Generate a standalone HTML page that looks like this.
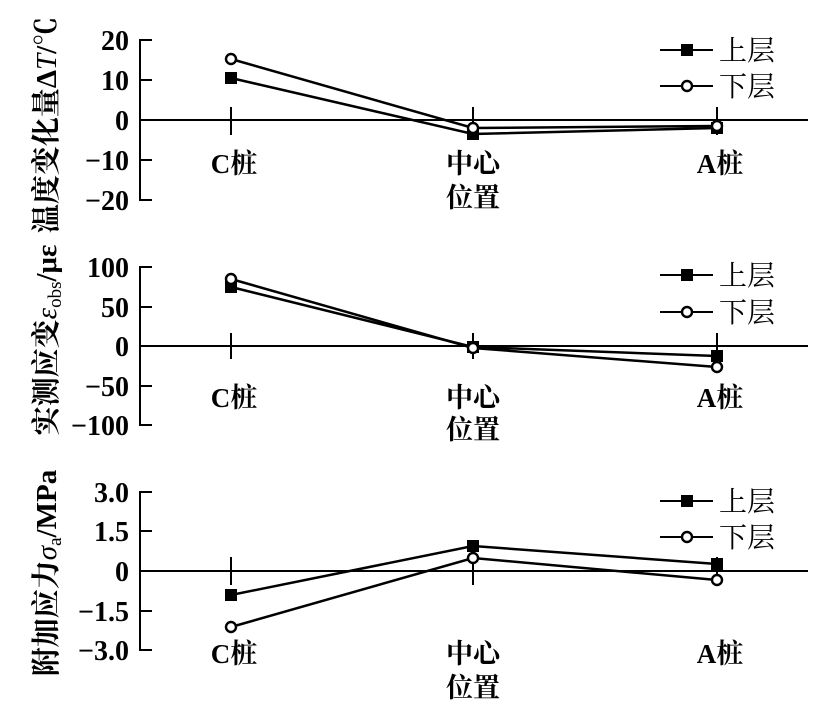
<!DOCTYPE html>
<html><head><meta charset="utf-8"><style>
html,body{margin:0;padding:0;background:#fff;width:835px;height:716px;overflow:hidden}
svg{display:block}
.t{font-family:"Liberation Serif","Noto Serif CJK SC",serif;font-weight:bold;font-size:28px;fill:#000}
.c{font-family:"Liberation Serif","Noto Serif CJK SC",serif;font-weight:bold;font-size:27px;fill:#000}
.lg{font-family:"Liberation Serif","Noto Serif CJK SC",serif;font-size:28px;fill:#000}
.yl{font-family:"Liberation Serif","Noto Serif CJK SC",serif;font-weight:bold;font-size:29px;fill:#000}
</style></head><body>
<svg width="835" height="716" viewBox="0 0 835 716" xmlns="http://www.w3.org/2000/svg">
<g stroke="#000" stroke-width="2" fill="none">
<path d="M152,40 H140 V200 H152 M140,80 H152 M140,160 H152"/>
<path d="M140,120 H808"/>
<path d="M231,107 V135 M473,107 V135 M717,107 V135"/>
<polyline points="231,78 473,134 717,128" stroke-width="2.5"/>
<polyline points="231,59 473,128 717,126" stroke-width="2.5"/>
<path d="M152,267 H140 V425 H152 M140,307 H152 M140,386 H152"/>
<path d="M140,346 H808"/>
<path d="M231,333 V359 M473,333 V359 M717,333 V359"/>
<polyline points="231,287 473,347 717,356" stroke-width="2.5"/>
<polyline points="231,279 473,348 717,367" stroke-width="2.5"/>
<path d="M152,492 H140 V650 H152 M140,531 H152 M140,611 H152"/>
<path d="M140,571 H808"/>
<path d="M231,557 V585 M473,557 V585 M717,557 V585"/>
<polyline points="231,595 473,546 717,564" stroke-width="2.5"/>
<polyline points="231,627 473,558 717,580" stroke-width="2.5"/>
<path d="M660,50 H713 M660,86 H713 M660,275 H713 M660,312 H713 M660,501 H713 M660,537 H713"/>
</g>
<g fill="#000">
<rect x="225" y="72" width="12" height="12"/><rect x="467" y="128" width="12" height="12"/><rect x="711" y="122" width="12" height="12"/>
<rect x="225" y="281" width="12" height="12"/><rect x="467" y="341" width="12" height="12"/><rect x="711" y="350" width="12" height="12"/>
<rect x="225" y="589" width="12" height="12"/><rect x="467" y="540" width="12" height="12"/><rect x="711" y="558" width="12" height="12"/>
<rect x="681" y="44" width="12" height="12"/><rect x="681" y="269" width="12" height="12"/><rect x="681" y="495" width="12" height="12"/>
</g>
<g fill="#fff" stroke="#000" stroke-width="2.4">
<circle cx="231" cy="59" r="5"/><circle cx="473" cy="128" r="5"/><circle cx="717" cy="126" r="5"/>
<circle cx="231" cy="279" r="5"/><circle cx="473" cy="348" r="5"/><circle cx="717" cy="367" r="5"/>
<circle cx="231" cy="627" r="5"/><circle cx="473" cy="558" r="5"/><circle cx="717" cy="580" r="5"/>
<circle cx="687" cy="86" r="5"/><circle cx="687" cy="312" r="5"/><circle cx="687" cy="537" r="5"/>
</g>
<g class="t" text-anchor="end">
<text x="129" y="50">20</text><text x="129" y="90">10</text><text x="129" y="130">0</text><text x="129" y="170">−10</text><text x="129" y="210">−20</text>
<text x="129" y="277">100</text><text x="129" y="317">50</text><text x="129" y="356">0</text><text x="129" y="396">−50</text><text x="129" y="435">−100</text>
<text x="129" y="502">3.0</text><text x="129" y="541">1.5</text><text x="129" y="581">0</text><text x="129" y="621">−1.5</text><text x="129" y="660">−3.0</text>
</g>
<g class="c" text-anchor="middle">
<text x="234" y="173">C桩</text><text x="473" y="173">中心</text><text x="473" y="207">位置</text><text x="720" y="173">A桩</text>
<text x="234" y="407">C桩</text><text x="473" y="407">中心</text><text x="473" y="439">位置</text><text x="720" y="407">A桩</text>
<text x="234" y="663">C桩</text><text x="473" y="663">中心</text><text x="473" y="697">位置</text><text x="720" y="663">A桩</text>
</g>
<g class="lg">
<text x="719" y="60">上层</text><text x="719" y="96">下层</text>
<text x="719" y="285">上层</text><text x="719" y="322">下层</text>
<text x="719" y="511">上层</text><text x="719" y="547">下层</text>
</g>
<g class="yl" text-anchor="middle">
<text transform="translate(56,125) rotate(-90)">温度变化量Δ<tspan font-style="italic" font-weight="normal">T</tspan>/℃</text>
<text transform="translate(56,340) rotate(-90)">实测应变<tspan font-style="italic" font-weight="normal">ε</tspan><tspan font-size="19" font-weight="normal" dy="5">obs</tspan><tspan dy="-5">/με</tspan></text>
<text transform="translate(56,573) rotate(-90)">附加应力<tspan font-style="italic" font-weight="normal">σ</tspan><tspan font-size="19" font-weight="normal" dy="5">a</tspan><tspan dy="-5">/MPa</tspan></text>
</g>
</svg>
</body></html>
